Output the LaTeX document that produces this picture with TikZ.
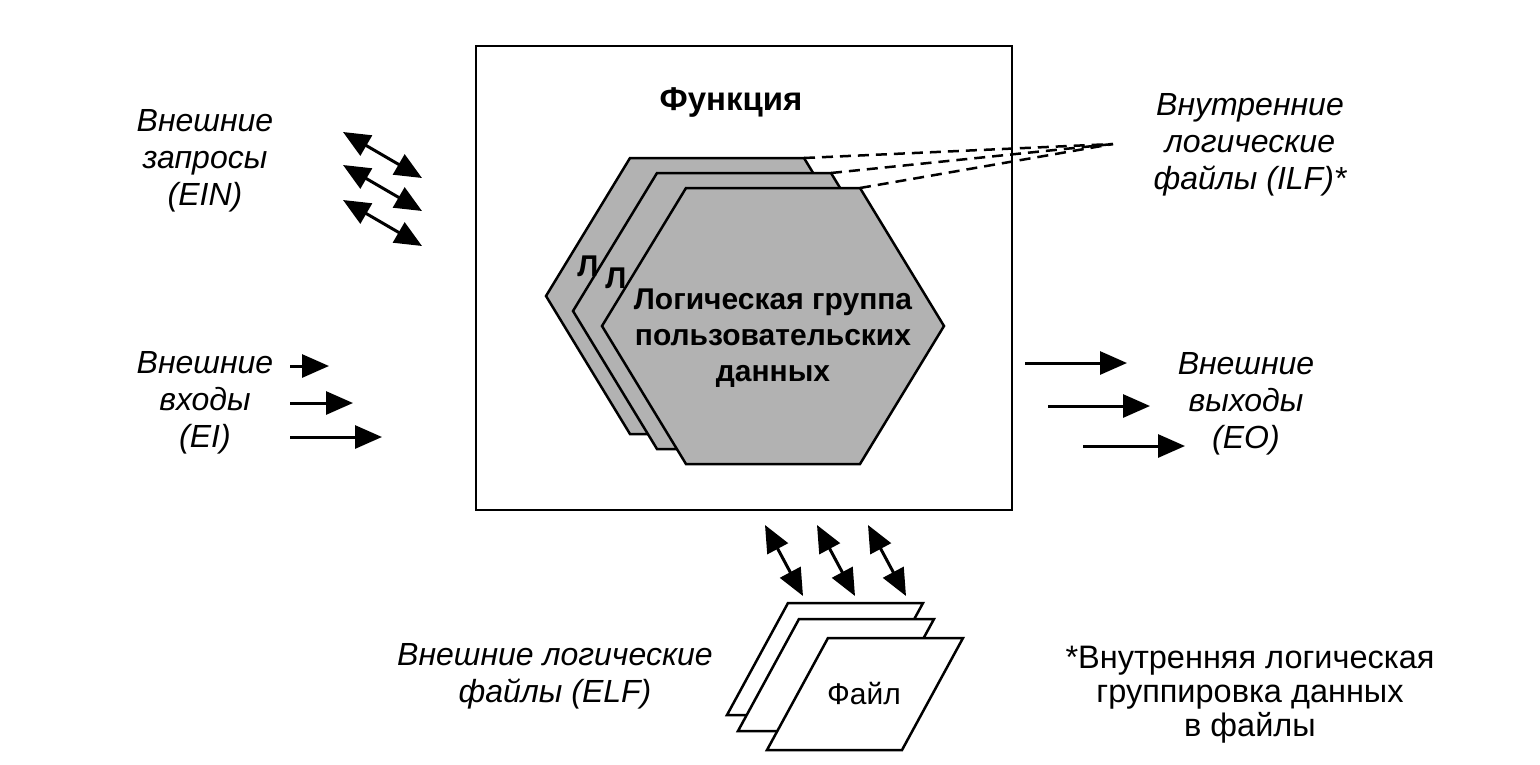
\documentclass[tikz,border=0pt]{standalone}
\usepackage{fontspec}
\setmainfont{Liberation Sans}
\usetikzlibrary{arrows.meta}
\begin{document}
\begin{tikzpicture}[>={Triangle[length=27pt,width=23pt]},line join=miter,x=1pt,y=-1pt,
	lbl/.style={font=\fontsize{32}{37}\selectfont\itshape,align=center,inner sep=0pt},
	hexa/.style={draw,line width=2.5pt,fill=black!30},
	hextxt/.style={font=\fontsize{30}{36}\selectfont\bfseries,align=center,inner sep=0pt},
	filebox/.style={draw,line width=2.5pt,fill=white},
	dashln/.style={line width=2.5pt,dash pattern=on 11pt off 7pt},
	sgl/.style={->,line width=3pt},
	dbl/.style={<->,line width=3pt}]
		\useasboundingbox (0,0) rectangle (1540,764);
		\draw[line width=2.5pt] (476,46) rectangle (1012,510);
		\node[hextxt,font=\fontsize{33}{36}\selectfont\bfseries] (func) at (731,102) {Функция};
		\foreach \cx/\cy/\n in {717/296/hb,744/311/hm,773/326/hf}
		\draw[hexa] (\cx-87,\cy-138)--(\cx+87,\cy-138) coordinate (\n-tr)--(\cx+171,\cy)
		--(\cx+87,\cy+138)--(\cx-87,\cy+138)--(\cx-171,\cy)--cycle;
		\node[hextxt] (hb) at (588,266) {Л};
		\node[hextxt] (hm) at (616,278) {Л};
		\node[hextxt] (hf) at (773,338) {Логическая группа\\пользовательских\\данных};
		\coordinate (ilfend) at (1113,144);
		\foreach \n in {hb,hm,hf} \draw[dashln] (\n-tr)--(ilfend);
		\foreach \bx/\by/\n in {727/715/fb,738/731/fm,767/750/ff}
		\draw[filebox] (\bx,\by) coordinate (\n)--++(61,-112)--++(135,0)--++(-61,112)--cycle;
		\node[font=\fontsize{30}{36}\selectfont,inner sep=0pt] (file) at (864,694) {Файл};
		\foreach \y in {132,165,200} \draw[dbl] (343,\y)--(422,\y+46);
		\foreach \y/\l in {366/39,403/63,437/92} \draw[sgl] (290,\y)--++(\l,0);
		\foreach \x/\y in {1025/363,1048/406,1083/446} \draw[sgl] (\x,\y)--++(102,0);
		\foreach \x in {765,817,868} \draw[dbl] (\x,525)--++(38,71);
		\node[lbl] (ein) at (205,161) {Внешние\\запросы\\(EIN)};
		\node[lbl] (ei) at (205,403) {Внешние\\входы\\(EI)};
		\node[lbl] (ilf) at (1250,145) {Внутренние\\логические\\файлы (ILF)*};
		\node[lbl] (eo) at (1246,404) {Внешние\\выходы\\(EO)};
		\node[lbl] (elf) at (555,676) {Внешние логические\\файлы (ELF)};
		\node[lbl,font=\fontsize{32.5}{34}\selectfont] (note) at (1250,695) {*Внутренняя логическая\\группировка данных\\в файлы};
		\end{tikzpicture}
\end{document}
